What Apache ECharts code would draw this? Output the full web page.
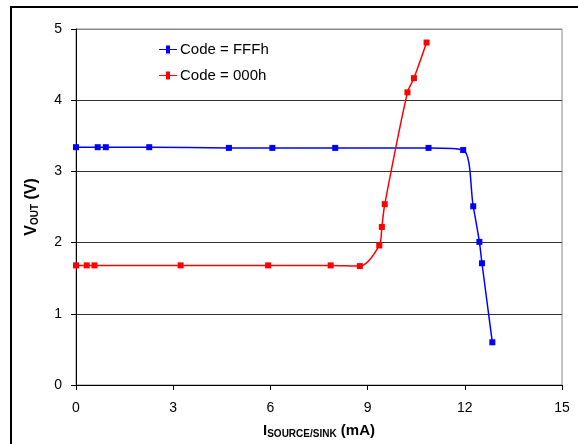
<!DOCTYPE html>
<html>
<head>
<meta charset="utf-8">
<script src="https://cdn.jsdelivr.net/npm/echarts@6/dist/echarts.min.js"></script>
<style>html,body{margin:0;padding:0;background:#fff;}#c{width:578px;height:444px;}</style>
</head>
<body>
<div id="c"></div>
<script>
const fffX = [0, 0.67, 0.92, 2.26, 4.72, 6.06, 8.0, 10.88, 11.95, 12.26, 12.45, 12.53, 12.85];
const fffY = [3.34, 3.34, 3.34, 3.34, 3.33, 3.33, 3.33, 3.33, 3.30, 2.51, 2.01, 1.71, 0.60];
const zeroX = [0, 0.33, 0.57, 3.23, 5.93, 7.86, 8.76, 9.36, 9.44, 9.53, 10.23, 10.43, 10.82];
const zeroY = [1.68, 1.68, 1.68, 1.68, 1.68, 1.68, 1.67, 1.96, 2.22, 2.54, 4.11, 4.31, 4.81];
const xTicks = [0, 3, 6, 9, 12, 15];
const yTicks = [0, 1, 2, 3, 4, 5];
const seriesNames = ['Code = FFFh', 'Code = 000h'];

const font = 'Liberation Sans, Arial, sans-serif';
const chart = echarts.init(document.getElementById('c'), null, {renderer: 'canvas'});
const zip = (a, b) => a.map((v, i) => [v, b[i]]);

chart.setOption({
  animation: false,
  backgroundColor: '#fff',
  grid: {left: 76, right: 16, top: 29, bottom: 58, show: true, borderColor: '#888', borderWidth: 1, backgroundColor: 'transparent'},
  legend: {
    left: 159, top: 42, padding: 0, orient: 'vertical', itemGap: 11, itemWidth: 18, itemHeight: 8,
    textStyle: {fontFamily: font, fontSize: 15, color: '#000', padding: [0, 0, 0, -2]},
    data: seriesNames.map(n => ({name: n, icon: 'path://M0,3.5L7,3.5L7,0L11,0L11,3.5L18,3.5L18,4.5L11,4.5L11,8L7,8L7,4.5L0,4.5Z'}))
  },
  xAxis: {
    type: 'value', min: xTicks[0], max: xTicks[xTicks.length - 1], interval: 3,
    axisLine: {show: true, lineStyle: {color: '#000', width: 1}},
    axisTick: {show: true, inside: false, length: 5, lineStyle: {color: '#000'}},
    axisLabel: {fontFamily: font, fontSize: 14, color: '#000', margin: 16},
    splitLine: {show: false},
    name: '{i|I}{s|SOURCE/SINK}{i| (mA)}', nameLocation: 'middle', nameGap: 38,
    nameTextStyle: {rich: {
      i: {fontFamily: font, fontSize: 15, fontWeight: 'bold', color: '#000'},
      s: {fontFamily: font, fontSize: 10, fontWeight: 'bold', color: '#000', verticalAlign: 'bottom', padding: [6, 0, 0, 0]}
    }}
  },
  yAxis: {
    type: 'value', min: yTicks[0], max: yTicks[yTicks.length - 1], interval: 1,
    axisLine: {show: true, lineStyle: {color: '#000', width: 1}},
    axisTick: {show: true, inside: false, length: 5, lineStyle: {color: '#000'}},
    axisLabel: {fontFamily: font, fontSize: 14, color: '#000', margin: 14},
    splitLine: {show: true, lineStyle: {color: ['#000', '#333', '#333', '#333', '#333', '#888'], width: 1}},
    name: '{i|V}{s|OUT}{i| (V)}', nameLocation: 'middle', nameGap: 36, nameRotate: 90,
    nameTextStyle: {rich: {
      i: {fontFamily: font, fontSize: 16, fontWeight: 'bold', color: '#000'},
      s: {fontFamily: font, fontSize: 10, fontWeight: 'bold', color: '#000', padding: [6, 0, 0, 0]}
    }}
  },
  series: [
    {name: seriesNames[0], type: 'line', data: zip(fffX, fffY), smooth: 0.3, symbol: 'rect', symbolSize: 6,
     itemStyle: {color: '#0000ff'}, lineStyle: {color: '#0000ff', width: 1.5}, z: 3},
    {name: seriesNames[1], type: 'line', data: zip(zeroX, zeroY), smooth: 0.3, symbol: 'rect', symbolSize: 6,
     itemStyle: {color: '#ff0000'}, lineStyle: {color: '#ff0000', width: 1.5}, z: 4}
  ],
  graphic: [{type: 'rect', shape: {x: 11, y: 7, width: 700, height: 600}, style: {fill: 'none', stroke: '#000', lineWidth: 2}, silent: true, z: 100}]
});
</script>
</body>
</html>
